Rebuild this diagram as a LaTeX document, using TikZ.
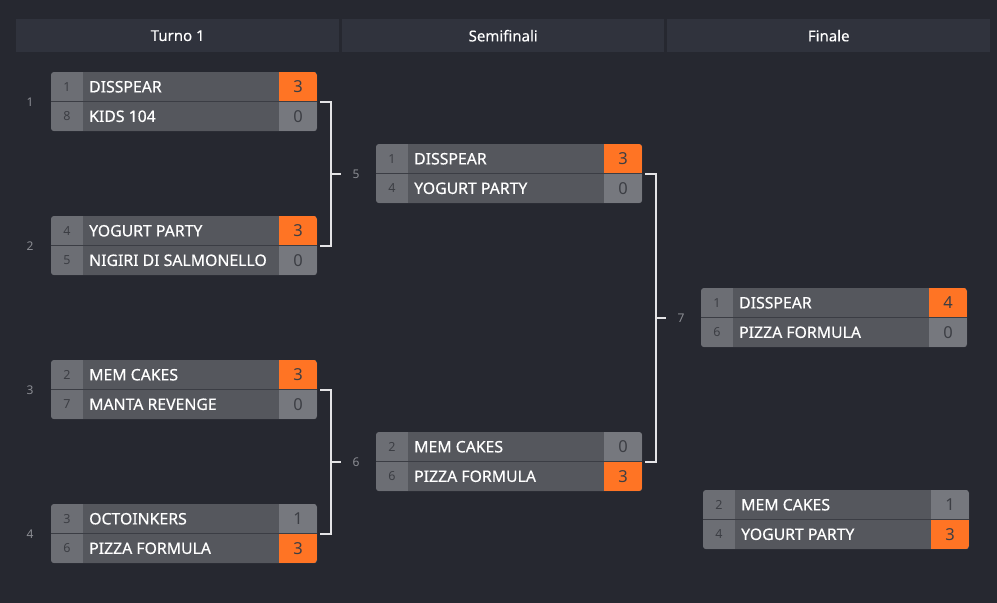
\documentclass[tikz,border=0pt]{standalone}
\usepackage{fontspec}
\setmainfont{Noto Sans}
\newfontfamily\namefont[FakeBold=0.5]{Noto Sans}
\newfontfamily\headfont[FakeBold=0.2]{Noto Sans}
\usetikzlibrary{calc}
\definecolor{bgcol}{HTML}{262830}
\definecolor{headcol}{HTML}{30333D}
\definecolor{namecol}{HTML}{55575D}
\definecolor{seedcol}{HTML}{6C6E74}
\definecolor{losecol}{HTML}{76787E}
\definecolor{wincol}{HTML}{FF7424}
\definecolor{sepcol}{HTML}{3B3D44}
\definecolor{darktxt}{HTML}{3C3E44}
\definecolor{labtxt}{HTML}{8B8D93}
\definecolor{linecol}{HTML}{E4E4E6}
\tikzset{
  boxbase/.style={rectangle, minimum width=266pt, minimum height=59pt, inner sep=0pt, fill=namecol, rounded corners=3pt},
  headbox/.style={rectangle, fill=headcol, minimum height=33pt, inner sep=0pt, text=white, font=\headfont\fontsize{15}{18}\selectfont},
  seedtxt/.style={inner sep=0pt, text=darktxt, font=\fontsize{12.5}{14}\selectfont},
  nametxt/.style={inner sep=0pt, text=white, font=\namefont\fontsize{15.8}{18}\selectfont},
  scoretxt/.style={inner sep=0pt, text=darktxt, font=\fontsize{16.5}{18}\selectfont},
  labelnum/.style={inner sep=0pt, text=labtxt, font=\fontsize{12}{14}\selectfont},
  conn/.style={draw=linecol, line width=2pt},
}
\newcommand{\matchat}[3]{%
  \def\mID{#1}\def\mX{#2}\def\mY{#3}%
  \node[boxbase, anchor=north west] (#1) at (#2,#3) {};%
}
\newcommand{\teamrow}[5]{%
  \pgfmathsetmacro\rY{\mY+#1*29.5}%
  \begin{scope}
    \clip[rounded corners=3pt] (\mX,\mY) rectangle ++(266,59);
    \fill[seedcol] (\mX,\rY) rectangle ++(32,29.5);
    \fill[#5] (\mX+228,\rY) rectangle ++(38,29.5);
  \end{scope}
  \node[seedtxt] (\mID-s#1) at (\mX+16,\rY+14.75) {#2};
  \node[nametxt, anchor=west] (\mID-n#1) at (\mX+38,\rY+14.75) {#3};
  \node[scoretxt] (\mID-c#1) at (\mX+247,\rY+14.75) {#4};
}
\newcommand{\sepline}{%
  \draw[sepcol, line width=1.5pt] (\mX,\mY+29.5) -- ++(266,0);%
}
\begin{document}
\begin{tikzpicture}[x=1pt, y=-1pt]
\useasboundingbox (0,0) rectangle (997,603);
\fill[bgcol] (0,0) rectangle (997,603);
% headers
\node[headbox, minimum width=323pt, anchor=north west] (h1) at (16,19) {Turno 1};
\node[headbox, minimum width=322pt, anchor=north west] (h2) at (342,19) {Semifinali};
\node[headbox, minimum width=323pt, anchor=north west] (h3) at (667,19) {Finale};
% Turno 1
\matchat{m1}{51}{72}
\teamrow{0}{1}{DISSPEAR}{3}{wincol}
\teamrow{1}{8}{KIDS 104}{0}{losecol}
\sepline
\matchat{m2}{51}{216}
\teamrow{0}{4}{YOGURT PARTY}{3}{wincol}
\teamrow{1}{5}{NIGIRI DI SALMONELLO}{0}{losecol}
\sepline
\matchat{m3}{51}{360}
\teamrow{0}{2}{MEM CAKES}{3}{wincol}
\teamrow{1}{7}{MANTA REVENGE}{0}{losecol}
\sepline
\matchat{m4}{51}{504}
\teamrow{0}{3}{OCTOINKERS}{1}{losecol}
\teamrow{1}{6}{PIZZA FORMULA}{3}{wincol}
\sepline
% Semifinali
\matchat{m5}{376}{144}
\teamrow{0}{1}{DISSPEAR}{3}{wincol}
\teamrow{1}{4}{YOGURT PARTY}{0}{losecol}
\sepline
\matchat{m6}{376}{432}
\teamrow{0}{2}{MEM CAKES}{0}{losecol}
\teamrow{1}{6}{PIZZA FORMULA}{3}{wincol}
\sepline
% Finale
\matchat{m7}{701}{288}
\teamrow{0}{1}{DISSPEAR}{4}{wincol}
\teamrow{1}{6}{PIZZA FORMULA}{0}{losecol}
\sepline
\matchat{m8}{703}{490}
\teamrow{0}{2}{MEM CAKES}{1}{losecol}
\teamrow{1}{4}{YOGURT PARTY}{3}{wincol}
\sepline
% match labels
\node[labelnum] (l1) at (30,102) {1};
\node[labelnum] (l2) at (30,246) {2};
\node[labelnum] (l3) at (30,390) {3};
\node[labelnum] (l4) at (30,534) {4};
\node[labelnum] (l5) at (356,174) {5};
\node[labelnum] (l6) at (356,462) {6};
\node[labelnum] (l7) at (681,318) {7};
% connectors
\coordinate (j5) at ([xshift=14pt]m1.east);
\draw[conn] ([xshift=3pt]m1.east) -- (j5) |- ([xshift=3pt]m2.east);
\draw[conn] (j5 |- m5.west) -- ++(10,0);
\coordinate (j6) at ([xshift=14pt]m3.east);
\draw[conn] ([xshift=3pt]m3.east) -- (j6) |- ([xshift=3pt]m4.east);
\draw[conn] (j6 |- m6.west) -- ++(10,0);
\coordinate (j7) at ([xshift=14pt]m5.east);
\draw[conn] ([xshift=3pt]m5.east) -- (j7) |- ([xshift=3pt]m6.east);
\draw[conn] (j7 |- m7.west) -- ++(10,0);
\end{tikzpicture}
\end{document}
